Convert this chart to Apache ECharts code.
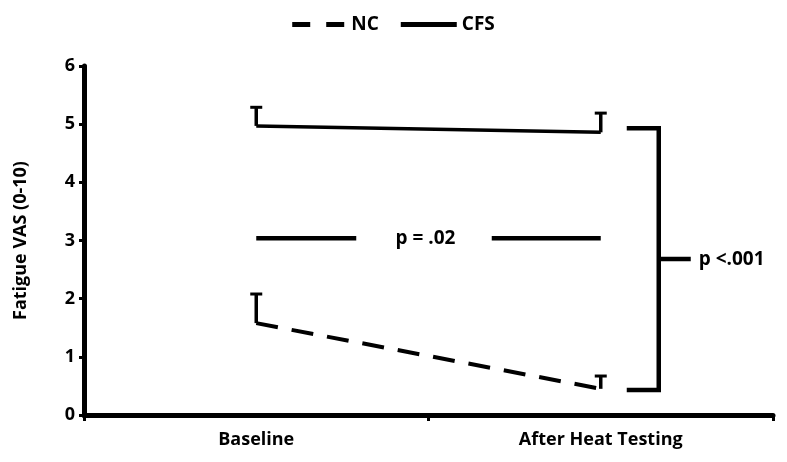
<!DOCTYPE html>
<html><head><meta charset="utf-8">
<script src="https://cdn.jsdelivr.net/npm/echarts@6/dist/echarts.min.js"></script>
<style>html,body{margin:0;padding:0;background:#fff}#c{width:787px;height:462px}</style>
</head><body><div id="c"></div>
<script>
const categories = ['Baseline', 'After Heat Testing'];
const ncMean = [1.58, 0.45];
const ncUpper = [2.08, 0.67];
const cfsMean = [4.97, 4.86];
const cfsUpper = [5.29, 5.19];
const yTicks = [0, 1, 2, 3, 4, 5, 6];
const groupPLabel = 'p = .02';
const groupPLevel = 3.04;
const timePLabel = 'p <.001';
const bracketTop = 4.93, bracketBottom = 0.43;

const FONT = '"Open Sans", "Noto Sans", sans-serif';
const chart = echarts.init(document.getElementById('c'));

function errRender(params, api) {
  const x = api.value(0), m = api.value(1), u = api.value(2);
  const p0 = api.coord([x, m]), p1 = api.coord([x, u]);
  const cap = 6;
  return {type: 'group', children: [
    {type: 'line', shape: {x1: p0[0], y1: p0[1], x2: p1[0], y2: p1[1]}, style: {stroke: '#000', lineWidth: 3.5}},
    {type: 'line', shape: {x1: p1[0] - cap, y1: p1[1], x2: p1[0] + cap, y2: p1[1]}, style: {stroke: '#000', lineWidth: 3}}
  ]};
}

const errNC = ncMean.map((v, i) => [i, v, ncUpper[i]]);
const errCFS = cfsMean.map((v, i) => [i, v, cfsUpper[i]]);

chart.setOption({
  animation: false,
  textStyle: {fontFamily: FONT},
  legend: {
    top: 10, left: 'center', itemWidth: 56, itemHeight: 5, itemGap: 22,
    textStyle: {fontFamily: FONT, fontWeight: 'bold', fontSize: 19, color: '#000'},
    data: [
      {name: 'NC', icon: 'path://M0,0h18v5h-18z M34,0h18v5h-18z', itemStyle: {color: '#000'}},
      {name: 'CFS', icon: 'path://M0,0h56v5h-56z', itemStyle: {color: '#000'}}
    ]
  },
  grid: {left: 84, right: 14, top: 66, bottom: 47},
  xAxis: {
    type: 'category', data: categories, boundaryGap: true,
    axisLine: {lineStyle: {color: '#000', width: 5}},
    axisTick: {show: true, length: 6, lineStyle: {color: '#000', width: 3}},
    axisLabel: {fontFamily: FONT, fontWeight: 'bold', fontSize: 18, color: '#000', margin: 16}
  },
  yAxis: {
    type: 'value', min: 0, max: 6, interval: 1,
    name: 'Fatigue VAS (0-10)', nameLocation: 'middle', nameGap: 54,
    nameTextStyle: {fontFamily: FONT, fontWeight: 'bold', fontSize: 18, color: '#000'},
    axisLine: {show: true, lineStyle: {color: '#000', width: 5}},
    axisTick: {show: true, length: 5, lineStyle: {color: '#000', width: 3}},
    axisLabel: {fontFamily: FONT, fontWeight: 'bold', fontSize: 18, color: '#000', margin: 9,
      formatter: v => yTicks.includes(v) ? String(v) : ''},
    splitLine: {show: false}
  },
  series: [
    {name: 'NC', type: 'line', data: ncMean, symbol: 'none',
     lineStyle: {color: '#000', width: 4, type: [22, 14]}, itemStyle: {color: '#000'}, z: 3},
    {name: 'CFS', type: 'line', data: cfsMean, symbol: 'none',
     lineStyle: {color: '#000', width: 3.5, type: 'solid'}, itemStyle: {color: '#000'}, z: 3},
    {name: 'NCerr', type: 'custom', data: errNC, renderItem: errRender, z: 4},
    {name: 'CFSerr', type: 'custom', data: errCFS, renderItem: errRender, z: 4},
    {name: 'annot', type: 'custom', data: [[0, groupPLevel]], z: 5,
     renderItem: function (params, api) {
       const a = api.coord([0, groupPLevel]);
       const b = api.coord([1, groupPLevel]);
       const mid = (a[0] + b[0]) / 2 - 3;
       const t = api.coord([1, bracketTop]);
       const bt = api.coord([1, bracketBottom]);
       const x0 = b[0] + 26, x1 = b[0] + 58;
       const ym = (t[1] + bt[1]) / 2;
       const ls = {stroke: '#000', lineWidth: 4.5};
       return {type: 'group', children: [
         {type: 'line', shape: {x1: a[0], y1: a[1], x2: a[0] + 100, y2: a[1]}, style: ls},
         {type: 'line', shape: {x1: b[0] - 109, y1: b[1], x2: b[0], y2: b[1]}, style: ls},
         {type: 'text', x: mid, y: a[1], style: {text: groupPLabel, fontFamily: FONT, fontWeight: 'bold', fontSize: 19, fill: '#000', align: 'center', verticalAlign: 'middle'}},
         {type: 'polyline', shape: {points: [[x0, t[1]], [x1, t[1]], [x1, bt[1]], [x0, bt[1]]]}, style: {stroke: '#000', lineWidth: 4.5, fill: null}},
         {type: 'line', shape: {x1: x1, y1: ym, x2: x1 + 32, y2: ym}, style: ls},
         {type: 'text', x: x1 + 40, y: ym, style: {text: timePLabel, fontFamily: FONT, fontWeight: 'bold', fontSize: 19, fill: '#000', align: 'left', verticalAlign: 'middle'}}
       ]};
     }}
  ]
});
</script></body></html>
